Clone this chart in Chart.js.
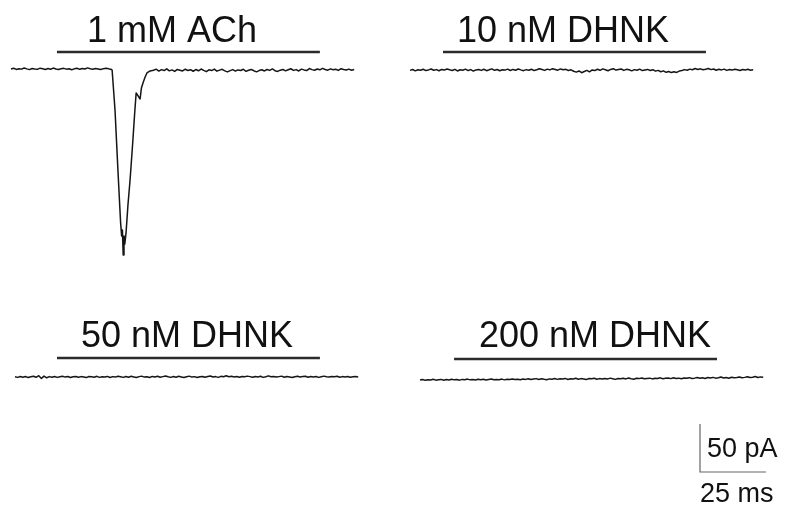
<!DOCTYPE html>
<html>
<head>
<meta charset="utf-8">
<script src="https://cdn.jsdelivr.net/npm/chart.js@4/dist/chart.umd.min.js"></script>
<style>
html,body{margin:0;padding:0;background:#fff;}
#c{display:block;}
</style>
</head>
<body>
<canvas id="c" width="785" height="508"></canvas>
<script>
// ---------------- DATA ----------------
const panelLabels = ['1 mM ACh', '10 nM DHNK', '50 nM DHNK', '200 nM DHNK'];
// Drug application bars: start / end (ms from trace start)
const barStartMs = [17.4, 12.5, 15.9, 12.9];
const barEndMs   = [117.0, 112.1, 115.5, 112.5];

const sampleMs = 1; // sampling interval of baseline segments (ms)

// 1 mM ACh: baseline before response (from 0 ms), pA
const achPrePa = [1.0,1.8,0.6,1.4,0.9,2.1,1.2,0.4,1.6,1.1,
  0.7,1.9,1.3,0.5,1.5,0.8,2.0,1.1,0.6,1.4,
  1.7,0.9,1.3,0.3,1.2,1.8,0.7,1.5,1.0,2.2,
  1.3,0.8,1.6,1.1,0.5,1.4,1.9,1.2,0.6];
// 1 mM ACh: inward current response, time (ms) and current (pA)
const achPeakMs = [38.3,39.4,40.5,41.5,41.9,42.2,42.5,42.8,43.1,43.6,44.3,45.1,46.1,46.8,47.4,47.9,48.9,49.4,50.0,50.8,51.5,52.7];
const achPeakPa = [0,-41.7,-104.2,-158.3,-172.9,-166.7,-192.7,-172.9,-181.3,-168.8,-140.6,-114.6,-76,-46.9,-24,-26,-30.2,-18.8,-13.5,-7.3,-3.1,-1];
// 1 mM ACh: baseline after response (from 54 ms), pA
const achPostStartMs = 54;
const achPostPa = [-0.3,0.9,-1.1,0.4,-0.6,1.2,-0.9,0.1,-1.5,0.6,-0.2,-1.0,0.8,-0.5,0.3,-1.3,0.5,-0.8,1.0,-0.4,
  -1.7,0.2,-0.6,0.9,-1.2,-0.1,0.7,-0.9,-2.0,-0.7,0.4,-1.1,0.1,-0.5,0.8,-1.4,-0.3,0.6,-0.8,-1.9,
  -0.6,0.3,-1.0,0.5,-0.4,1.1,-0.7,-1.5,-0.2,0.6,-0.9,0.2,1.3,-0.4,0.4,-1.0,0.9,0.1,-0.6,1.5,
  0.4,-0.3,1.0,0.2,1.7,0.5,-0.2,1.2,0.3,0.8,-0.4,1.4,0.6,0.0,0.9,-0.2,0.5];

// DHNK traces (pA), one value per ms
const dhnk10Pa = [-0.4,0.5,-0.9,0.3,-0.2,0.8,-0.6,0.1,1.0,-0.3,
  0.4,-0.8,0.6,-0.1,1.1,0.2,-0.5,0.7,-1.0,0.3,
  -0.2,0.9,-0.6,0.4,-1.1,0.1,0.6,-0.4,0.8,-0.7,
  0.2,1.2,-0.3,0.5,-0.8,0.3,-0.1,0.9,-0.5,0.6,
  -0.2,1.0,0.1,-0.7,0.4,-0.3,0.8,-0.6,0.2,1.3,
  0.5,-0.4,0.9,0.1,1.4,0.6,-0.2,1.1,0.3,0.7,
  -0.5,0.2,-1.3,-2.2,-1.0,-2.8,-1.6,-0.4,-1.9,0.1,
  -0.6,0.8,-0.3,1.2,0.2,-0.8,0.6,1.4,-0.1,0.5,
  1.0,-0.4,0.7,0.2,-0.9,0.4,-0.3,0.9,-0.6,0.1,
  0.6,-0.5,0.3,-1.2,-0.4,-1.8,-0.9,-2.4,-1.5,-2.7,
  -1.9,-2.5,-1.1,-0.6,0.4,-0.2,0.9,0.3,1.5,0.6,
  1.2,0.2,0.8,1.6,0.4,1.0,-0.2,0.7,0.1,0.9,
  -0.4,0.6,-0.1,0.8,0.2,-0.5,0.5,0.1,0.7,-0.2,0.3];
const dhnk50Pa = [0.3,-0.4,0.6,-0.2,0.5,-0.6,0.2,0.8,-0.3,1.4,
  -1.5,0.9,-0.8,0.4,-0.2,0.6,-0.4,0.3,0.7,-0.1,
  0.5,-0.5,0.2,0.6,-0.3,0.4,0.1,-0.6,0.5,0.2,
  -0.2,0.7,-0.4,0.3,0.0,0.6,-0.5,0.4,-0.1,0.8,
  0.2,-0.4,0.5,-0.2,0.7,0.1,-0.6,0.4,0.9,-0.1,
  0.3,-0.5,0.6,0.0,0.8,-0.3,0.4,1.0,0.2,-0.4,
  0.5,-0.2,0.7,0.1,-0.5,0.3,0.9,-0.1,0.4,-0.6,
  0.2,0.6,-0.3,0.5,1.1,0.0,0.4,-0.4,0.7,0.2,
  1.3,0.3,0.8,0.1,0.5,-0.3,0.6,0.2,0.9,0.4,
  -0.2,0.5,0.1,0.8,-0.4,0.3,1.2,0.2,0.6,-0.1,
  0.4,0.9,-0.3,0.5,0.1,-0.5,0.3,0.7,0.0,0.4,
  0.8,-0.2,0.5,0.1,0.6,-0.4,0.3,0.9,0.2,-0.1,
  0.5,0.2,0.7,-0.3,0.4,0.1,0.6,-0.2,0.3,0.5,0.1];
const dhnk200Pa = [-1.1,-0.5,-1.4,-0.7,-1.0,-0.3,-1.2,-0.8,-0.4,-1.3,
  -0.6,-1.0,-0.2,-0.9,-0.5,-1.2,-0.4,-0.8,-0.1,-0.9,
  -0.6,-1.1,-0.3,-0.7,-0.2,-1.0,-0.5,0.0,-0.8,-0.4,
  -0.7,-0.1,-0.9,-0.3,-0.6,0.1,-0.5,-0.2,-0.8,0.0,
  -0.4,0.3,-0.6,-0.1,0.4,-0.5,0.2,-0.3,-0.7,0.1,
  -0.2,0.5,-0.4,0.2,-0.1,0.6,-0.5,0.3,0.0,0.7,
  -0.3,0.4,0.1,-0.6,0.5,0.2,0.8,-0.2,0.4,0.0,
  0.6,-0.1,0.9,0.3,-0.4,0.5,0.2,0.8,0.1,1.0,
  0.3,-0.2,0.7,0.4,1.1,0.2,0.6,0.9,0.1,0.8,
  0.5,1.2,0.3,0.7,1.0,0.4,1.3,0.6,0.9,0.2,
  1.1,0.7,1.4,0.5,0.9,1.6,0.8,1.2,0.6,1.5,
  1.0,1.7,0.9,1.3,2.0,1.1,1.5,0.8,1.8,1.2,
  1.6,2.1,1.3,1.7,2.4,1.5,1.9,2.6,1.6,2.2,1.8];

// Scale bar
const scaleBarPa = 50;
const scaleBarMs = 25;
const scaleLabels = ['50 pA', '25 ms'];

// ---------------- LAYOUT ----------------
const W = 785, H = 508;
const PX_PER_MS = 2.64, PX_PER_PA = 0.96;
const panelOrigins = [[11,70],[410,70],[15,377],[420,379]]; // px: trace start, baseline
const barRisePx = [18,18,19,20];
const labelPos = [[172,42],[563,42],[187,347],[595,347]];
const scaleOrigin = [700,472];
const scaleLabelPos = [[707,457],[700,502]];

function toPt(origin, tMs, iPa){
  return {x: origin[0]/PX_PER_MS + tMs, y: -origin[1]/PX_PER_PA + iPa};
}
function uniform(vals, t0){ return vals.map((v,i)=>[t0 + i*sampleMs, v]); }

const traces = [
  uniform(achPrePa,0).concat(achPeakMs.map((t,i)=>[t, achPeakPa[i]]), uniform(achPostPa, achPostStartMs)),
  uniform(dhnk10Pa,0),
  uniform(dhnk50Pa,0),
  uniform(dhnk200Pa,0)
];

const datasets = [];
traces.forEach((tr,p)=>{
  const o = panelOrigins[p];
  datasets.push({
    data: tr.map(([t,v])=>toPt(o,t,v)),
    borderColor:'#151515', borderWidth:1.5, pointRadius:0, tension:0, clip:false,
    borderJoinStyle:'round'
  });
  const rise = barRisePx[p]/PX_PER_PA;
  datasets.push({
    data:[toPt(o,barStartMs[p],rise), toPt(o,barEndMs[p],rise)],
    borderColor:'#2b2b2b', borderWidth:2.5, pointRadius:0, clip:false
  });
});
datasets.push({
  data:[toPt(scaleOrigin,0,scaleBarPa), toPt(scaleOrigin,0,0), toPt(scaleOrigin,scaleBarMs,0)],
  borderColor:'#666', borderWidth:1.2, pointRadius:0, clip:false
});

const textPlugin = {
  id:'texts',
  afterDatasetsDraw(chart){
    const ctx = chart.ctx;
    ctx.save();
    ctx.fillStyle = '#111';
    ctx.textBaseline = 'alphabetic';
    ctx.font = '36px "Liberation Sans", Arial, sans-serif';
    ctx.textAlign = 'center';
    panelLabels.forEach((s,i)=>ctx.fillText(s, labelPos[i][0], labelPos[i][1]));
    ctx.font = '27px "Liberation Sans", Arial, sans-serif';
    ctx.textAlign = 'left';
    scaleLabels.forEach((s,i)=>ctx.fillText(s, scaleLabelPos[i][0], scaleLabelPos[i][1]));
    ctx.restore();
  }
};

new Chart(document.getElementById('c'), {
  type:'line',
  data:{datasets},
  options:{
    responsive:false, animation:false, events:[],
    layout:{padding:0},
    plugins:{legend:{display:false}, tooltip:{enabled:false}, title:{display:false}},
    scales:{
      x:{type:'linear', display:false, min:0, max:W/PX_PER_MS},
      y:{type:'linear', display:false, min:-H/PX_PER_PA, max:0}
    }
  },
  plugins:[textPlugin]
});
</script>
</body>
</html>
